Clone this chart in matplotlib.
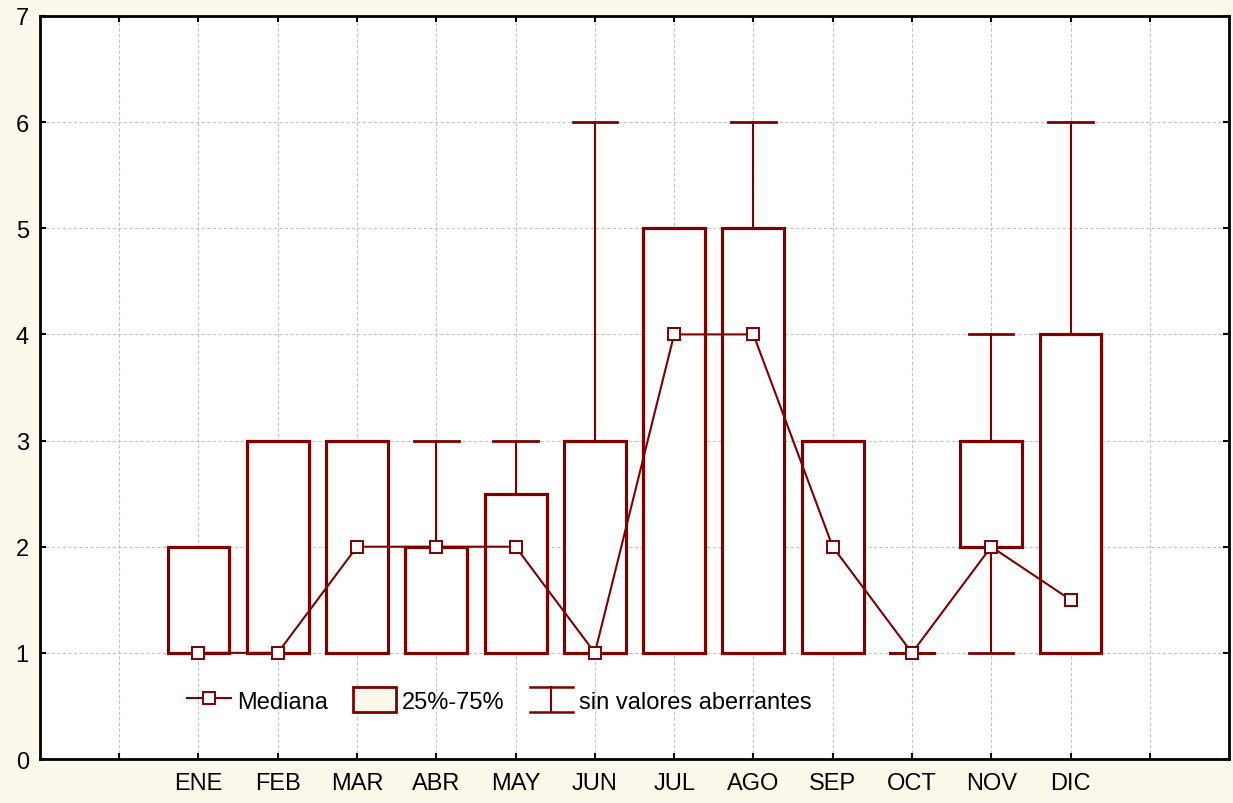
import numpy as np
import matplotlib
matplotlib.use("Agg")
import matplotlib.pyplot as plt
from matplotlib.lines import Line2D
from matplotlib.patches import Rectangle
from matplotlib.legend_handler import HandlerBase

months = ["ENE", "FEB", "MAR", "ABR", "MAY", "JUN", "JUL", "AGO", "SEP", "OCT", "NOV", "DIC"]
median = [1, 1, 2, 2, 2, 1, 4, 4, 2, 1, 2, 1.5]
q1 = [1, 1, 1, 1, 1, 1, 1, 1, 1, 1, 2, 1]
q3 = [2, 3, 3, 2, 2.5, 3, 5, 5, 3, 1, 3, 4]
wmin = [1, 1, 1, 1, 1, 1, 1, 1, 1, 1, 1, 1]
wmax = [2, 3, 3, 3, 3, 6, 5, 6, 3, 1, 4, 6]

RED = "#800000"
CREAM = "#fdf8ec"
BOXW = 0.78; CAPW = 0.56

plt.rcParams['font.family'] = ['Liberation Sans', 'DejaVu Sans']


class HandlerWhisker(HandlerBase):
    # I-shaped handle: vertical stem with caps top and bottom
    def create_artists(self, legend, orig, xd, yd, w, h, fs, trans):
        x0, y0 = -xd, -yd
        cx = x0 + w/2
        l1 = Line2D([cx, cx], [y0, y0+h], color=RED, lw=1.5, transform=trans)
        l2 = Line2D([x0, x0+w], [y0+h, y0+h], color=RED, lw=1.8, transform=trans)
        l3 = Line2D([x0, x0+w], [y0, y0], color=RED, lw=1.8, transform=trans)
        return [l1, l2, l3]


fig = plt.figure(figsize=(12.33, 8.04), dpi=100, facecolor=CREAM)
ax = fig.add_axes([0.0324, 0.0547, 0.9644, 0.9242])
x = np.arange(2, 2+len(months))

for xi, lo, hi in zip(x, wmin, wmax):
    ax.plot([xi, xi], [lo, hi], color=RED, lw=1.5, zorder=2)
    ax.plot([xi-CAPW/2, xi+CAPW/2], [hi, hi], color=RED, lw=2.0, zorder=2)
    ax.plot([xi-CAPW/2, xi+CAPW/2], [lo, lo], color=RED, lw=2.0, zorder=2)
for xi, a, b in zip(x, q1, q3):
    if b > a:
        ax.add_patch(Rectangle((xi-BOXW/2, a), BOXW, b-a, facecolor="white",
                               edgecolor=RED, lw=2.3, zorder=3))
ax.plot(x, median, color=RED, lw=1.5, marker="s", ms=8.5, mfc="white", mec=RED,
        mew=1.4, zorder=4)

ax.set_xlim(0, 15); ax.set_ylim(0, 7)
ax.set_xticks(np.arange(1, 15))
ax.set_xticklabels([""] + months + [""])
ax.set_yticks(np.arange(0, 8))
ax.tick_params(direction="in", length=4, width=1.5, top=True, right=True, labelsize=17)
ax.tick_params(axis="x", pad=9)
ax.tick_params(axis="y", pad=8)
ax.grid(True, ls=(0, (3, 2)), color="#c4c4c4", lw=0.8, zorder=0)
ax.set_axisbelow(True)
for s in ax.spines.values():
    s.set_linewidth(2)

h_med = Line2D([], [], color=RED, lw=1.5, marker="s", ms=8.5, mfc="white", mec=RED, mew=1.4)
h_box = Rectangle((0, 0), 1, 1, facecolor=CREAM, edgecolor=RED, lw=2)
h_wh = object()
ax.legend([h_med, h_box, h_wh], ["Mediana", "25%-75%", "sin valores aberrantes"],
          handler_map={h_wh: HandlerWhisker()}, loc="center left",
          bbox_to_anchor=(0.124, 0.0794), ncol=3, frameon=False, fontsize=17,
          borderpad=0, borderaxespad=0, handlelength=1.85, handleheight=1.2,
          handletextpad=0.25, columnspacing=1.05)

fig.savefig("out.png", dpi=100, facecolor=CREAM)
